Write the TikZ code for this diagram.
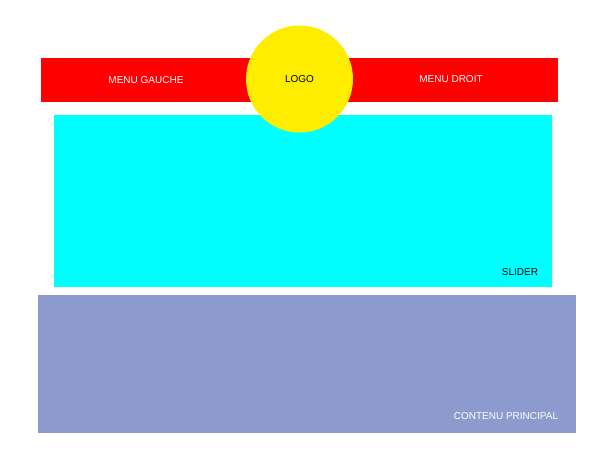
\documentclass[tikz,border=0pt]{standalone}
\usepackage{fontspec}
\setmainfont{Liberation Sans}
\usepackage{xcolor}
\usetikzlibrary{positioning}

\definecolor{menured}{RGB}{255,0,0}
\definecolor{logoyellow}{RGB}{255,237,0}
\definecolor{slidercyan}{RGB}{0,255,255}
\definecolor{contentblue}{RGB}{140,154,206}

\begin{document}
\begin{tikzpicture}[
    x=1pt, y=-1pt,
    zone/.style={inner sep=0pt, outer sep=0pt, anchor=north west},
    lbl/.style={font=\fontsize{10}{12}\selectfont, inner sep=0pt},
]
\useasboundingbox (0,0) rectangle (613,469);

% Header
\node[zone, fill=menured, minimum width=517pt, minimum height=44pt] (header) at (41,58) {};
\node[lbl, text=white] (gauche) at (146,80) {MENU GAUCHE};
\node[lbl, text=white] (droit) at (451,79) {MENU DROIT};

% Slider
\node[zone, fill=slidercyan, minimum width=498pt, minimum height=172pt] (slider) at (54,115) {};
\node[lbl, text=black] (slidertxt) at (520,272) {SLIDER};

% Logo (over header and slider)
\node[circle, fill=logoyellow, minimum size=107pt, inner sep=0pt] (logo) at (299.5,79) {};
\node[lbl, text=black] (logotxt) at (logo.center) {LOGO};

% Contenu
\node[zone, fill=contentblue, minimum width=538pt, minimum height=138pt] (contenu) at (38,295) {};
\node[lbl, text=white] (contenutxt) at (506,416) {CONTENU PRINCIPAL};

\end{tikzpicture}
\end{document}
